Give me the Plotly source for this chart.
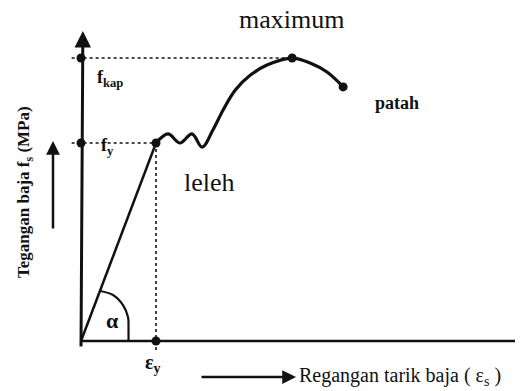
import plotly.graph_objects as go

# ---- data (strain in per-mille, stress in MPa; schematic) ----
elastic_strain = [0.0, 2.0]
elastic_stress = [0.0, 240.0]

curve_strain = [2.0, 2.32, 2.64, 2.96, 3.23, 3.52, 3.79, 4.11, 4.51, 4.96, 5.63, 6.11, 6.56, 6.99]
curve_stress = [240, 251, 240, 251, 235, 256, 280, 304, 322, 334.5, 343, 337, 326, 308]

fy = 240.0
fkap = 343.0
eps_y = 2.0
max_strain = 5.63
break_strain, break_stress = 6.99, 308.0

arc_strain = [0.507, 0.853, 1.12, 1.253, 1.267, 1.267]
arc_stress = [60.6, 55.8, 43.6, 29.1, 13.3, 0.0]

# ---- figure geometry ----
# the page body has an 8px margin, so the figure is drawn 8px smaller and
# all reference pixel positions are shifted by that offset
OFF = 8
W, H = 523 - OFF, 391 - OFF
X0_PX, Y0_PX = 81 - OFF, 341 - OFF   # origin position inside the figure
SX, SY = 37.5, 0.825                 # px per unit
xr = [-X0_PX / SX, (W - X0_PX) / SX]
yr = [(Y0_PX - H) / SY, Y0_PX / SY]

FONT = "Liberation Serif"
BLACK = "#111111"

fig = go.Figure()

# dotted guide lines
fig.add_trace(go.Scatter(x=[-0.25, max_strain], y=[fkap, fkap], mode="lines",
                         line=dict(color=BLACK, width=1.6, dash="dot"), hoverinfo="skip"))
fig.add_trace(go.Scatter(x=[-0.25, eps_y], y=[fy, fy], mode="lines",
                         line=dict(color=BLACK, width=1.6, dash="dot"), hoverinfo="skip"))
fig.add_trace(go.Scatter(x=[eps_y, eps_y], y=[fy, -14], mode="lines",
                         line=dict(color=BLACK, width=1.6, dash="dot"), hoverinfo="skip"))

# x axis line
fig.add_trace(go.Scatter(x=[0, xr[1]], y=[0, 0], mode="lines",
                         line=dict(color=BLACK, width=2.5), hoverinfo="skip"))

# elastic line
fig.add_trace(go.Scatter(x=elastic_strain, y=elastic_stress, mode="lines",
                         line=dict(color=BLACK, width=2.5), hoverinfo="skip"))
# yield / hardening curve
fig.add_trace(go.Scatter(x=curve_strain, y=curve_stress, mode="lines",
                         line=dict(color=BLACK, width=3.2, shape="spline", smoothing=1.0),
                         hoverinfo="skip"))
# alpha arc
fig.add_trace(go.Scatter(x=arc_strain, y=arc_stress, mode="lines",
                         line=dict(color=BLACK, width=2.2, shape="spline", smoothing=1.0),
                         hoverinfo="skip"))

# dots
fig.add_trace(go.Scatter(x=[0, 0, eps_y, max_strain, break_strain, eps_y],
                         y=[fkap, fy, fy, fkap, break_stress, 0],
                         mode="markers", marker=dict(color=BLACK, size=9), hoverinfo="skip"))

ann = []
# y axis with arrow
ann.append(dict(x=0.05, y=(Y0_PX - (31 - OFF)) / SY, xref="x", yref="y",
                ax=0.0, ay=-7 / SY, axref="x", ayref="y",
                showarrow=True, arrowhead=2, arrowsize=1.1, arrowwidth=3,
                arrowcolor=BLACK, text="", standoff=0))


def p(xpx, ypx):
    # reference page pixel -> paper fraction
    return (xpx - OFF) / W, 1 - (ypx - OFF) / H


def text(xpx, ypx, t, size, bold=False, xanchor="center", angle=0):
    px, py = p(xpx, ypx)
    ann.append(dict(x=px, y=py, xref="paper", yref="paper", text=t, showarrow=False,
                    xanchor=xanchor, yanchor="middle", textangle=angle, borderpad=0,
                    font=dict(family=FONT, size=size, color=BLACK,
                              weight="bold" if bold else "normal")))


text(291, 19, "maximum", 26)
text(209, 183, "leleh", 26)
text(397, 103, "patah", 18, bold=True)
text(96, 78, "f<sub>kap</sub>", 18, bold=True, xanchor="left")
text(100, 146, "f<sub>y</sub>", 18, bold=True, xanchor="left")
text(112, 320, "α", 22, bold=True)
text(153, 363, "ε<sub>y</sub>", 20, bold=True)
text(25, 192, "Tegangan baja f<sub>s</sub> (MPa)", 17, bold=True, angle=-90)
text(298, 376, "Regangan tarik baja ( ε<sub>s</sub> )", 20, xanchor="left")

# title arrows
tx, ty = p(53, 141)
ann.append(dict(x=tx, y=ty, xref="paper", yref="paper", ax=0, ay=89, axref="pixel",
                ayref="pixel", showarrow=True, arrowhead=2, arrowsize=1.1, arrowwidth=2.5,
                arrowcolor=BLACK, text="", standoff=0))
tx, ty = p(296, 377)
ann.append(dict(x=tx, y=ty, xref="paper", yref="paper", ax=-96, ay=0, axref="pixel",
                ayref="pixel", showarrow=True, arrowhead=2, arrowsize=1.1, arrowwidth=2.5,
                arrowcolor=BLACK, text="", standoff=0))

fig.update_layout(
    width=W, height=H, margin=dict(l=0, r=0, t=0, b=0),
    paper_bgcolor="white", plot_bgcolor="white", showlegend=False,
    xaxis=dict(range=xr, visible=False, fixedrange=True),
    yaxis=dict(range=yr, visible=False, fixedrange=True),
    annotations=ann,
)

fig.write_html("out.html")
